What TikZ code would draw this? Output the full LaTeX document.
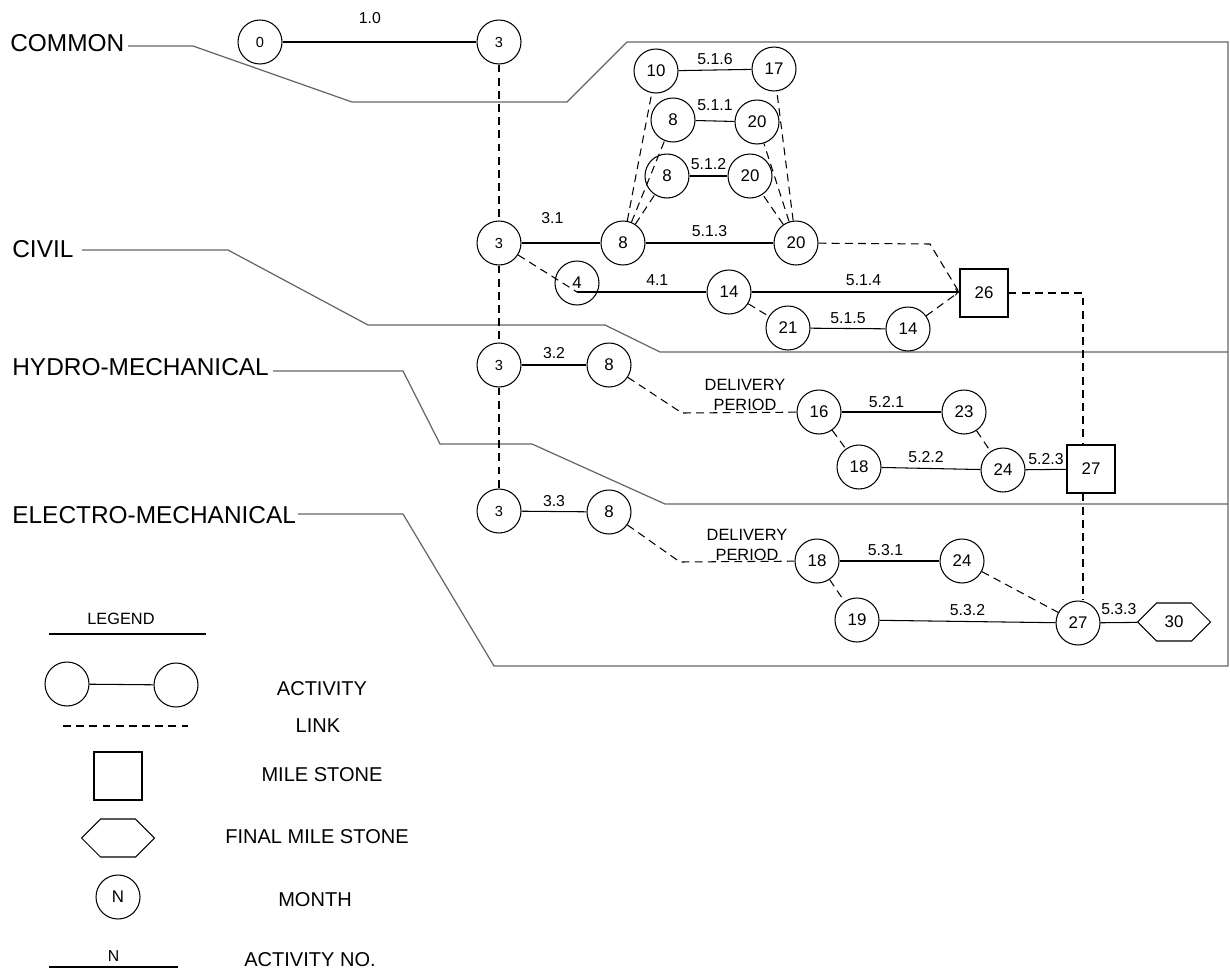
\documentclass[tikz,border=0pt]{standalone}
\usepackage{fontspec}
\setmainfont{Liberation Sans}
\usetikzlibrary{shapes.symbols}

\tikzset{
    mon/.style={circle, draw, line width=0.6pt, minimum size=0.88cm, inner sep=0pt,
        font=\fontsize{9.6}{11}\selectfont},
    monsm/.style={mon, font=\fontsize{8.3}{9}\selectfont},
    mile/.style={rectangle, draw, line width=0.6pt, minimum size=0.96cm, inner sep=0pt,
        font=\fontsize{9.6}{11}\selectfont},
    finmile/.style={signal, signal to=east and west, signal pointer angle=90, draw,
        line width=0.6pt, minimum width=1.46cm, minimum height=0.76cm, inner sep=0pt,
        font=\fontsize{9.6}{11}\selectfont},
    act/.style={line width=0.6pt},
    lnk/.style={line width=0.6pt, dash pattern=on 4.5pt off 3pt},
    grp/.style={line width=0.7pt, draw=black!60},
    lbl/.style={font=\fontsize{9}{10}\selectfont, inner sep=1pt},
    grpname/.style={font=\fontsize{13.9}{16}\selectfont, anchor=west, inner sep=0pt},
    legtxt/.style={font=\fontsize{11.4}{13}\selectfont},
}

\begin{document}
\begin{tikzpicture}[x=0.02cm, y=-0.02cm]
    \useasboundingbox (0,0) rectangle (1230,977);

    % Группы работ
    \node[grpname] (gcom) at (10,43) {COMMON};
    \node[grpname] (gciv) at (12,249) {CIVIL};
    \node[grpname] (ghm)  at (12,367) {HYDRO-MECHANICAL};
    \node[grpname] (gem)  at (12,515) {ELECTRO-MECHANICAL};

    \draw[grp] (128,46) -- (193,46) -- (352,102) -- (567,102) -- (627,42)
        -- (1228,42) -- (1228,666);
    \draw[grp] (82,250) -- (228,250) -- (368,325) -- (605,325) -- (660,352) -- (1228,352);
    \draw[grp] (273,371) -- (403,371) -- (440,444) -- (532,444) -- (665,504) -- (1228,504);
    \draw[grp] (298,514) -- (403,514) -- (494,666) -- (1228,666);

    % Узлы (месяцы)
    \node[monsm] (c0)  at (260,42)  {0};
    \node[monsm] (c3a) at (499,42)  {3};
    \node[mon] (c10)  at (656,71)  {10};
    \node[mon] (c17)  at (774,69)  {17};
    \node[mon] (c8a)  at (673,120) {8};
    \node[mon] (c20a) at (757,122) {20};
    \node[mon] (c8b)  at (667,176) {8};
    \node[mon] (c20b) at (750,176) {20};
    \node[monsm] (c3b) at (499,243) {3};
    \node[mon] (c8c)  at (623,243) {8};
    \node[mon] (c20c) at (796,243) {20};
    \node[mon] (c4)   at (577,283) {4};
    \coordinate (c4in) at (577,292);
    \node[mon] (c14a) at (729,292) {14};
    \node[mon] (c21)  at (788,328) {21};
    \node[mon] (c14b) at (908,329) {14};
    \node[mile] (m26) at (984,293) {26};
    \node[monsm] (c3c) at (499,365) {3};
    \node[mon] (c8d)  at (609,365) {8};
    \node[mon] (c16)  at (819,412) {16};
    \node[mon] (c23)  at (964,412) {23};
    \node[mon] (c18a) at (859,467) {18};
    \node[mon] (c24a) at (1003,470) {24};
    \node[mile] (m27) at (1091,469) {27};
    \node[monsm] (c3d) at (499,511) {3};
    \node[mon] (c8e)  at (609,512) {8};
    \node[mon] (c18b) at (817,561) {18};
    \node[mon] (c24b) at (962,561) {24};
    \node[mon] (c19)  at (857,620) {19};
    \node[mon] (c27)  at (1078,623) {27};
    \node[finmile] (f30) at (1174,622) {30};

    \node[font=\fontsize{9.3}{11.3}\selectfont, align=center, inner sep=0pt] (dp1)
        at (745,395) {DELIVERY\\PERIOD};
    \node[font=\fontsize{9.3}{11.3}\selectfont, align=center, inner sep=0pt] (dp2)
        at (747,545) {DELIVERY\\PERIOD};

    \coordinate (k26a) at (930,244);
    \coordinate (k26) at (959,292);
    \coordinate (khm) at (682,413);
    \coordinate (kem) at (680,562);
    \coordinate (kv) at (1083,293);

    % Работы
    \draw[act] (c0) -- (c3a) node[lbl, pos=0.45, above=9pt] {1.0};
    \draw[act] (c3b) -- (c8c) node[lbl, pos=0.39, above=9.5pt] {3.1};
    \draw[act] (c10) -- (c17) node[lbl, midway, above=1.5pt] {5.1.6};
    \draw[act] (c8a) -- (c20a) node[lbl, midway, above=4.5pt] {5.1.1};
    \draw[act] (c8b) -- (c20b) node[lbl, midway, above=2.5pt] {5.1.2};
    \draw[act] (c8c) -- (c20c) node[lbl, midway, above=2.5pt] {5.1.3};
    \draw[act] (c4in) -- (c14a) node[lbl, pos=0.62, above=2.5pt] {4.1};
    \draw[act, ->] (c14a) -- (k26) node[lbl, pos=0.54, above=2.5pt] {5.1.4};
    \draw[act] (c21) -- (c14b) node[lbl, midway, above=1.5pt] {5.1.5};
    \draw[act] (c3c) -- (c8d) node[lbl, midway, above=2.5pt] {3.2};
    \draw[act] (c16) -- (c23) node[lbl, pos=0.45, above=1pt] {5.2.1};
    \draw[act] (c18a) -- (c24a) node[lbl, pos=0.45, above=2pt] {5.2.2};
    \draw[act] (c24a) -- (m27) node[lbl, midway, above=1.5pt] {5.2.3};
    \draw[act] (c3d) -- (c8e) node[lbl, midway, above=1.5pt] {3.3};
    \draw[act] (c18b) -- (c24b) node[lbl, pos=0.46, above=1.5pt] {5.3.1};
    \draw[act] (c19) -- (c27) node[lbl, midway, above=2pt] {5.3.2};
    \draw[act] (c27) -- (f30) node[lbl, midway, above=3pt] {5.3.3};

    % Связи
    \draw[lnk] (c3a) -- (c3b);
    \draw[lnk] (c3b) -- (c3c);
    \draw[lnk] (c3c) -- (c3d);
    \draw[lnk] (c3b) -- (c4in);
    \foreach \n in {c10, c8a, c8b}
        \draw[lnk] (c8c) -- (\n);
    \foreach \n in {c17, c20a, c20b}
        \draw[lnk] (c20c) -- (\n);
    \draw[lnk] (c20c) -- (k26a) -- (k26);
    \draw[lnk] (c14a) -- (c21);
    \draw[lnk] (c14b) -- (k26);
    \draw[lnk] (m26) -- (kv) -- (kv |- m27.north);
    \draw[lnk] (kv |- m27.south) -- (kv |- c27.north);
    \draw[lnk] (c8d) -- (khm) -- (c16);
    \draw[lnk] (c16) -- (c18a);
    \draw[lnk] (c23) -- (c24a);
    \draw[lnk] (c8e) -- (kem) -- (c18b);
    \draw[lnk] (c18b) -- (c19);
    \draw[lnk] (c24b) -- (c27);

    % Легенда
    \node[font=\fontsize{9.3}{10}\selectfont] (leg) at (121,619) {LEGEND};
    \draw[act] (49,634) -- (206,634);
    \node[mon] (la) at (67,684) {};
    \node[mon] (lb) at (176,685) {};
    \draw[act] (la) -- (lb);
    \node[legtxt] (ta) at (322,689) {ACTIVITY};
    \draw[lnk] (63,726) -- (188,726);
    \node[legtxt] (tl) at (318,726) {LINK};
    \node[mile] (lm) at (118,776) {};
    \node[legtxt] (tm) at (322,775) {MILE STONE};
    \node[finmile] (lf) at (118,838) {};
    \node[legtxt] (tf) at (317,837) {FINAL MILE STONE};
    \node[mon] (ln) at (118,897) {N};
    \node[legtxt] (tn) at (315,900) {MONTH};
    \draw[act] (49,967) -- (178,967) node[lbl, midway, above=2pt] {N};
    \node[legtxt] (tan) at (310,960) {ACTIVITY NO.};
\end{tikzpicture}
\end{document}
